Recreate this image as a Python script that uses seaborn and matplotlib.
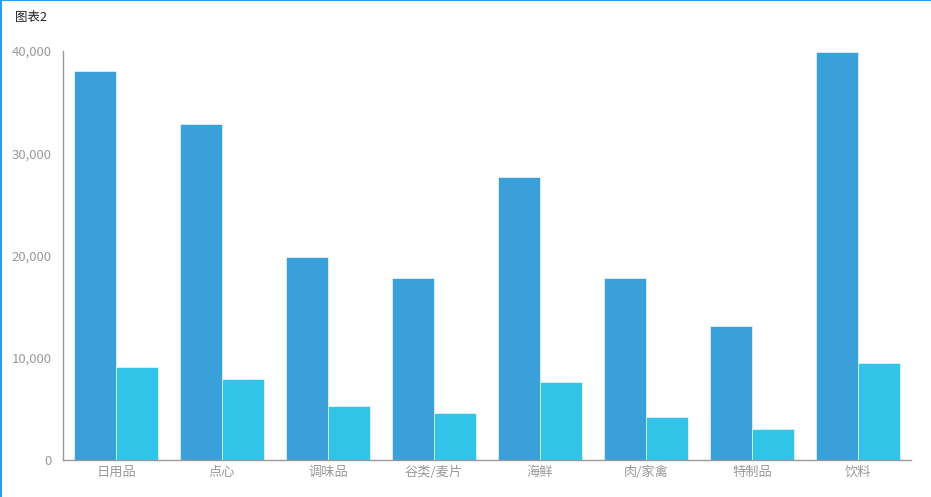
import pandas as pd
import matplotlib.pyplot as plt
import matplotlib.ticker as mticker
from matplotlib.lines import Line2D
import seaborn as sns

sns.set_theme(style="white")
plt.rcParams['font.family'] = ['Noto Sans CJK SC', 'DejaVu Sans']

# Dados
categorias = ['日用品', '点心', '调味品', '谷类/麦片', '海鲜', '肉/家禽', '特制品', '饮料']
serie_1 = [38000, 32900, 19900, 17800, 27700, 17800, 13100, 39900]
serie_2 = [9100, 7900, 5300, 4600, 7600, 4200, 3000, 9500]
nomes_series = ['系列1', '系列2']
cores = ['#3AA0DA', '#32C3E8']

df = pd.DataFrame({
    '类别': categorias * 2,
    '值': serie_1 + serie_2,
    '系列': [nomes_series[0]] * len(categorias) + [nomes_series[1]] * len(categorias),
})

fig = plt.figure(figsize=(9.31, 4.97), dpi=100)
ax = fig.add_axes([0.0677, 0.0744, 0.9108, 0.823])

sns.barplot(data=df, x='类别', y='值', hue='系列', palette=cores,
            width=0.8, saturation=1, edgecolor='white', linewidth=0.4,
            legend=False, ax=ax)

ax.set_ylim(0, 40000)
ax.set_xlim(-0.5, len(categorias) - 0.5)
ax.yaxis.set_major_locator(mticker.MultipleLocator(10000))
ax.yaxis.set_major_formatter(mticker.FuncFormatter(lambda v, p: f'{int(v):,}'))
ax.set_xlabel('')
ax.set_ylabel('')
ax.tick_params(axis='both', length=0, labelsize=9.5, colors='#9a9a9a')
ax.tick_params(axis='y', pad=8)
ax.tick_params(axis='x', pad=4)

for lado in ['top', 'right']:
    ax.spines[lado].set_visible(False)
for lado in ['left', 'bottom']:
    ax.spines[lado].set_color('#999999')
    ax.spines[lado].set_linewidth(1)

fig.text(15 / 931, 1 - 17 / 497, '图表2', fontsize=9, color='#222222', va='center', ha='left')

# Moldura azul (só à esquerda e em cima)
fig.add_artist(Line2D([0.001, 0.001], [0, 1], transform=fig.transFigure,
                      color='#2E9BF0', linewidth=1.5))
fig.add_artist(Line2D([0, 1], [0.999, 0.999], transform=fig.transFigure,
                      color='#2E9BF0', linewidth=1.5))

fig.savefig('out.png', dpi=100)
